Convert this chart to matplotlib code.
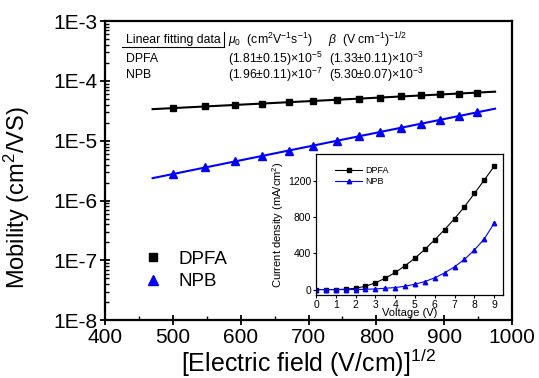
import numpy as np
import matplotlib
matplotlib.use("Agg")
import matplotlib.pyplot as plt
from matplotlib.ticker import FuncFormatter, MultipleLocator, LogLocator, NullFormatter
from matplotlib.lines import Line2D

plt.rcParams['font.family'] = ['Liberation Sans', 'DejaVu Sans']
plt.rcParams['mathtext.fontset'] = 'custom'
plt.rcParams['mathtext.rm'] = 'Liberation Sans'
plt.rcParams['mathtext.it'] = 'Liberation Sans:italic'

# mobility vs sqrt(E)
sqrt_e = [500, 548, 592, 632, 671, 707, 742, 775, 806, 837, 866, 894, 922, 949]
mu_dpfa = [3.52e-5, 3.75e-5, 3.98e-5, 4.19e-5, 4.42e-5, 4.63e-5, 4.86e-5,
           5.07e-5, 5.29e-5, 5.51e-5, 5.73e-5, 5.94e-5, 6.17e-5, 6.39e-5]
mu_npb = [2.77e-6, 3.58e-6, 4.52e-6, 5.58e-6, 6.87e-6, 8.31e-6, 1.00e-5,
          1.19e-5, 1.40e-5, 1.66e-5, 1.93e-5, 2.24e-5, 2.60e-5, 3.00e-5]

# linear fit lines (end points)
fit_x = [470, 975]
fit_dpfa = [3.38e-5, 6.62e-5]
fit_npb = [2.37e-6, 3.44e-5]

# inset J-V data
volt = [0, 0.5, 1, 1.5, 2, 2.5, 3, 3.5, 4, 4.5, 5, 5.5, 6, 6.5, 7, 7.5, 8, 8.5, 9]
j_dpfa = [0, 0, 0, 4, 15, 37, 74, 126, 189, 263, 348, 444, 552, 663, 785,
          915, 1063, 1211, 1363]
j_npb = [0, 0, 0, 0, 0, 3, 7, 15, 22, 37, 59, 89, 130, 185, 252, 333, 437,
         559, 733]

fig = plt.figure(figsize=(5.39, 3.78), dpi=100)
ax = fig.add_axes([0.195, 0.153, 0.755, 0.791])

ax.semilogy(fit_x, fit_dpfa, color='black', lw=1.5)
ax.semilogy(fit_x, fit_npb, color='blue', lw=1.5)
ax.semilogy(sqrt_e, mu_dpfa, 's', color='black', ms=5, ls='none')
ax.semilogy(sqrt_e, mu_npb, '^', color='blue', ms=6, ls='none')

ax.set_xlim(400, 1000)
ax.set_ylim(1e-8, 1e-3)
ax.xaxis.set_major_locator(MultipleLocator(100))
ax.xaxis.set_minor_locator(MultipleLocator(50))
ax.yaxis.set_major_locator(LogLocator(base=10, numticks=10))
ax.yaxis.set_minor_locator(LogLocator(base=10, subs=np.arange(2, 10), numticks=10))
ax.yaxis.set_minor_formatter(NullFormatter())
ax.yaxis.set_major_formatter(FuncFormatter(lambda v, p: "1E-%d" % abs(int(round(np.log10(v))))))
ax.tick_params(which='major', direction='inout', length=7, width=1.3, labelsize=15, pad=2)
ax.tick_params(which='minor', direction='in', length=3, width=1)
for s in ax.spines.values():
    s.set_linewidth(1.6)

ax.set_xlabel("[Electric field (V/cm)]$^{1/2}$", fontsize=18, labelpad=0)
ax.set_ylabel("Mobility (cm$^2$/VS)", fontsize=17)
ax.yaxis.set_label_coords(-0.18, 0.41)

handles = [Line2D([], [], marker='s', color='black', ls='none', ms=5.5),
           Line2D([], [], marker='^', color='blue', ls='none', ms=6.5)]
ax.legend(handles, ['DPFA', 'NPB'], loc='lower left', bbox_to_anchor=(0.053, 0.043),
          frameon=False, fontsize=13.5, handlelength=1.0, handletextpad=0.89,
          labelspacing=0.3)

# table text
ts = 8.8
row1 = 1 - 58.5 / 378
row2 = 1 - 75 / 378
fig.text(126 / 539, 1 - 40 / 378, "Linear fitting data", fontsize=ts, va='center')
fig.add_artist(Line2D([122 / 539, 223 / 539], [1 - 47 / 378, 1 - 47 / 378], color='black', lw=0.8))
fig.add_artist(Line2D([224 / 539, 224 / 539], [1 - 32 / 378, 1 - 47 / 378], color='black', lw=0.8))
fig.text(228 / 539, 1 - 40 / 378, r"$\mathit{\mu_0}$  (cm$^2$V$^{-1}$s$^{-1}$)", fontsize=ts, va='center')
fig.text(328 / 539, 1 - 40 / 378, r"$\mathit{\beta}$  (V cm$^{-1}$)$^{-1/2}$", fontsize=ts, va='center')
fig.text(126 / 539, row1, "DPFA", fontsize=ts, va='center')
fig.text(126 / 539, row2, "NPB", fontsize=ts, va='center')
fig.text(228 / 539, row1, r"(1.81$\pm$0.15)$\times$10$^{-5}$", fontsize=ts, va='center')
fig.text(329 / 539, row1, r"(1.33$\pm$0.11)$\times$10$^{-3}$", fontsize=ts, va='center')
fig.text(228 / 539, row2, r"(1.96$\pm$0.11)$\times$10$^{-7}$", fontsize=ts, va='center')
fig.text(329 / 539, row2, r"(5.30$\pm$0.07)$\times$10$^{-3}$", fontsize=ts, va='center')

# inset
ins = fig.add_axes([316 / 539, 1 - 295 / 378, 187 / 539, 141 / 378])
ins.plot(volt, j_dpfa, '-s', color='black', ms=2.8, lw=0.8, label='DPFA')
ins.plot(volt, j_npb, '-^', color='blue', ms=3.2, lw=0.8, label='NPB')
ins.set_xlim(0, 9.45)
ins.set_ylim(-60, 1500)
ins.xaxis.set_major_locator(MultipleLocator(1))
ins.yaxis.set_major_locator(MultipleLocator(400))
ins.tick_params(labelsize=7.5, length=2.5, width=0.8, pad=1)
for s in ins.spines.values():
    s.set_linewidth(0.9)
ins.set_xlabel("Voltage (V)", fontsize=8, labelpad=-1)
ins.set_ylabel("Current density (mA/cm$^2$)", fontsize=8, labelpad=1)
ins.legend(loc='upper left', bbox_to_anchor=(0.06, 0.97), frameon=False, fontsize=6.5,
           handlelength=3, handletextpad=0.3, labelspacing=0.2)

fig.savefig("out.png", dpi=100)
